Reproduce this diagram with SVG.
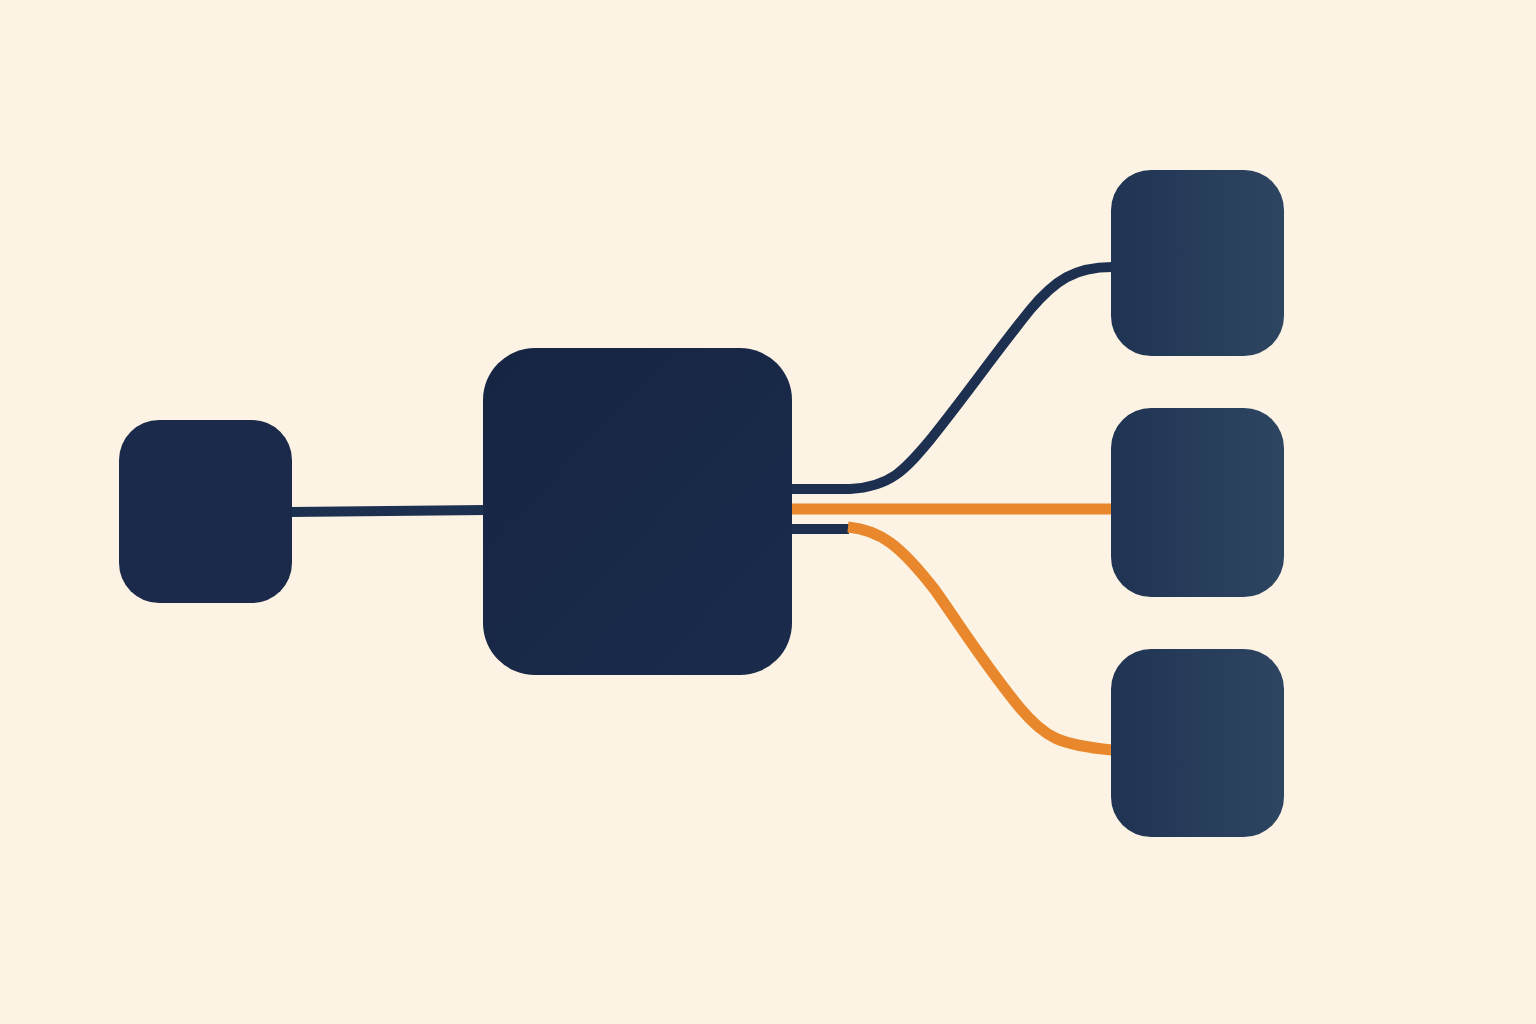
<svg xmlns="http://www.w3.org/2000/svg" width="1536" height="1024" viewBox="0 0 1536 1024">
<defs>
<linearGradient id="gc" x1="0" y1="0" x2="1" y2="1"><stop offset="0" stop-color="#162542"/><stop offset="1" stop-color="#1b2b4c"/></linearGradient>
<linearGradient id="gr" x1="0" y1="0" x2="1" y2="0"><stop offset="0" stop-color="#1f3452"/><stop offset="1" stop-color="#2e4562"/></linearGradient>
<style>
.nav{fill:none;stroke:#1e3050;stroke-width:10;stroke-linecap:butt}
.org{fill:none;stroke:#e8872c;stroke-width:11;stroke-linecap:butt}
</style>
</defs>
<rect width="1536" height="1024" fill="#fdf3e4"/>
<g id="connectors">
<path class="nav" d="M290 512 L486 510"/>
<path class="nav" d="M788 489 L850 489 C890 487 905 470 930 440 C970 390 990 360 1030 310 C1055 280 1075 267 1112 267"/>
<path class="org" d="M790 509 L1112 509"/>
<path class="nav" d="M790 529 L849 529"/>
<path class="org" d="M848 527 C880 530 900 545 935 590 C970 640 985 665 1020 708 C1045 738 1060 745 1112 750"/>
</g>
<g id="node-left"><rect x="119" y="420" width="173" height="183" rx="40" fill="#1b2a4a"/></g>
<g id="node-center"><rect x="483" y="348" width="309" height="327" rx="52" fill="url(#gc)"/></g>
<g id="node-top"><rect x="1111" y="170" width="173" height="186" rx="40" fill="url(#gr)"/></g>
<g id="node-mid"><rect x="1111" y="408" width="173" height="189" rx="40" fill="url(#gr)"/></g>
<g id="node-bottom"><rect x="1111" y="649" width="173" height="188" rx="40" fill="url(#gr)"/></g>
</svg>
